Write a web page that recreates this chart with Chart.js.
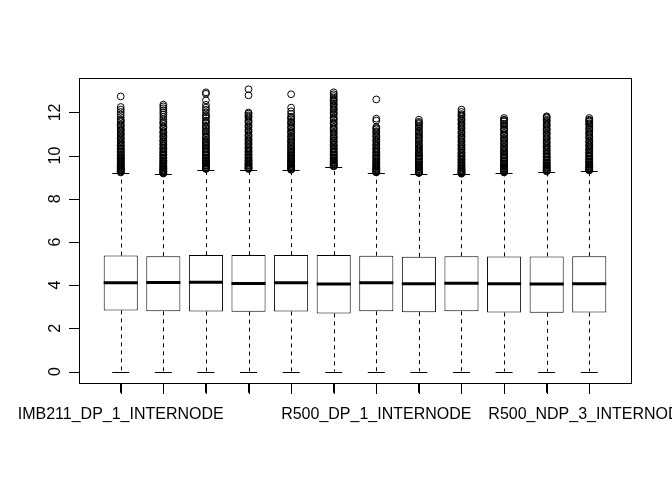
<!DOCTYPE html>
<html>
<head>
<meta charset="utf-8">
<script src="https://cdn.jsdelivr.net/npm/chart.js@4"></script>
<style>
html,body{margin:0;padding:0;background:#fff;overflow:hidden;}
canvas{display:block;}
</style>
</head>
<body>
<canvas id="c" width="672" height="480"></canvas>
<script>
const categories = [
  'IMB211_DP_1_INTERNODE','IMB211_DP_2_INTERNODE','IMB211_DP_3_INTERNODE',
  'IMB211_NDP_1_INTERNODE','IMB211_NDP_2_INTERNODE','IMB211_NDP_3_INTERNODE',
  'R500_DP_1_INTERNODE','R500_DP_2_INTERNODE','R500_DP_3_INTERNODE',
  'R500_NDP_1_INTERNODE','R500_NDP_2_INTERNODE','R500_NDP_3_INTERNODE'
];
const tickLabels = ['IMB211_DP_1_INTERNODE','','','','','','R500_DP_1_INTERNODE','','','','','R500_NDP_3_INTERNODE'];
const yTickValues = [0, 2, 4, 6, 8, 10, 12];

const whiskerLow  = [0, 0, 0, 0, 0, 0, 0, 0, 0, 0, 0, 0];
const q1          = [2.83, 2.79, 2.78, 2.77, 2.78, 2.69, 2.79, 2.75, 2.79, 2.73, 2.72, 2.73];
const medians     = [4.11, 4.12, 4.13, 4.08, 4.11, 4.05, 4.11, 4.06, 4.09, 4.06, 4.05, 4.06];
const q3          = [5.37, 5.34, 5.39, 5.39, 5.39, 5.39, 5.36, 5.31, 5.34, 5.33, 5.33, 5.34];
const whiskerHigh = [9.19, 9.14, 9.35, 9.35, 9.31, 9.47, 9.19, 9.16, 9.13, 9.19, 9.24, 9.28];

const outliers1 = [9.22,9.27,9.31,9.36,9.41,9.45,9.5,9.55,9.6,9.66,9.71,9.77,9.83,9.88,9.94,10.0,10.07,10.13,10.2,10.27,10.34,10.42,10.5,10.58,10.67,10.76,10.85,10.95,11.04,11.14,11.23,11.33,11.44,11.55,11.66,11.78,11.9,12.02,12.13,12.25,12.74,
  9.25,9.33,9.39,9.48,9.58,9.69,9.8,9.91,10.04,10.17,10.31,10.46,10.62,10.8,11.0,11.19,11.39,11.6];
const outliers2 = [9.17,9.21,9.26,9.3,9.35,9.4,9.45,9.5,9.55,9.61,9.67,9.73,9.79,9.85,9.92,9.99,10.06,10.13,10.21,10.29,10.37,10.46,10.55,10.64,10.73,10.83,10.93,11.03,11.13,11.24,11.35,11.46,11.57,11.68,11.79,11.9,12.0,12.1,12.19,12.28,12.36,
  9.19,9.24,9.33,9.42,9.52,9.64,9.76,9.89,10.03,10.17,10.33,10.5,10.68,10.88,11.08,11.3,11.52];
const outliers3 = [9.38,9.42,9.47,9.52,9.57,9.62,9.67,9.73,9.79,9.85,9.91,9.98,10.05,10.12,10.2,10.28,10.36,10.45,10.54,10.63,10.73,10.83,10.93,11.04,11.15,11.26,11.38,11.5,11.62,11.75,11.88,12.0,12.12,12.22,12.35,12.56,12.86,12.93,
  9.4,9.45,9.55,9.65,9.76,9.88,10.02,10.16,10.32,10.5,10.68,10.88,11.1,11.32,11.56,11.81];
const outliers4 = [9.38,9.42,9.47,9.52,9.57,9.62,9.68,9.74,9.8,9.86,9.93,10.0,10.07,10.15,10.23,10.31,10.4,10.49,10.58,10.68,10.78,10.88,10.98,11.09,11.2,11.31,11.42,11.53,11.64,11.75,11.86,11.94,11.99,12.79,13.07,
  9.4,9.45,9.55,9.65,9.77,9.9,10.04,10.19,10.36,10.54,10.73,10.93,11.14,11.36,11.58,11.8];
const outliers5 = [9.34,9.38,9.43,9.48,9.53,9.58,9.64,9.7,9.76,9.82,9.89,9.96,10.03,10.1,10.18,10.26,10.35,10.44,10.53,10.62,10.72,10.82,10.92,11.02,11.13,11.24,11.35,11.46,11.57,11.68,11.8,11.93,12.05,12.22,12.84,
  9.36,9.41,9.51,9.61,9.73,9.86,10.0,10.14,10.3,10.48,10.67,10.87,11.08,11.3,11.52,11.74];
const outliers6 = [9.5,9.54,9.59,9.64,9.69,9.74,9.8,9.86,9.92,9.98,10.05,10.12,10.19,10.27,10.35,10.43,10.52,10.61,10.7,10.8,10.9,11.0,11.1,11.2,11.31,11.42,11.53,11.64,11.76,11.88,12.0,12.1,12.2,12.3,12.4,12.5,12.59,12.68,12.76,12.84,12.93,
  9.52,9.57,9.67,9.77,9.89,10.02,10.16,10.31,10.48,10.66,10.85,11.05,11.26,11.48,11.7,11.94,12.15,12.35,12.55];
const outliers7 = [9.22,9.26,9.31,9.36,9.41,9.46,9.51,9.57,9.63,9.69,9.75,9.82,9.89,9.96,10.03,10.11,10.19,10.27,10.36,10.45,10.54,10.64,10.74,10.84,10.94,11.04,11.13,11.22,11.32,11.62,11.71,12.6,
  9.24,9.29,9.39,9.49,9.6,9.72,9.86,10.0,10.15,10.32,10.5,10.69,10.89,11.09,11.27];
const outliers8 = [9.19,9.23,9.28,9.33,9.38,9.43,9.49,9.55,9.61,9.67,9.74,9.81,9.88,9.95,10.03,10.11,10.19,10.28,10.37,10.46,10.56,10.66,10.76,10.86,10.96,11.06,11.16,11.26,11.36,11.46,11.56,11.66,
  9.21,9.26,9.36,9.46,9.58,9.71,9.85,9.99,10.15,10.33,10.51,10.71,10.91,11.11,11.31,11.51];
const outliers9 = [9.16,9.2,9.25,9.3,9.35,9.4,9.46,9.52,9.58,9.64,9.71,9.78,9.85,9.92,10.0,10.08,10.16,10.25,10.34,10.43,10.52,10.62,10.72,10.82,10.92,11.02,11.12,11.22,11.32,11.42,11.52,11.62,11.72,11.82,11.92,12.02,12.13,
  9.18,9.23,9.33,9.43,9.55,9.68,9.82,9.96,10.12,10.3,10.48,10.67,10.87,11.07,11.27,11.47,11.67,11.87];
const outliers10 = [9.22,9.26,9.31,9.36,9.41,9.46,9.52,9.58,9.64,9.7,9.77,9.84,9.91,9.99,10.07,10.15,10.24,10.33,10.42,10.52,10.62,10.72,10.82,10.93,11.04,11.15,11.26,11.37,11.48,11.58,11.66,11.74,
  9.24,9.29,9.39,9.49,9.61,9.74,9.88,10.03,10.2,10.38,10.57,10.77,10.98,11.2,11.42,11.62];
const outliers11 = [9.27,9.31,9.36,9.41,9.46,9.51,9.57,9.63,9.69,9.75,9.82,9.89,9.96,10.04,10.12,10.2,10.29,10.38,10.47,10.56,10.66,10.76,10.86,10.96,11.06,11.16,11.26,11.36,11.46,11.56,11.66,11.74,11.82,
  9.29,9.34,9.44,9.54,9.66,9.79,9.93,10.08,10.25,10.43,10.61,10.81,11.01,11.21,11.41,11.61,11.78];
const outliers12 = [9.31,9.35,9.4,9.45,9.5,9.55,9.61,9.67,9.73,9.79,9.86,9.93,10.0,10.08,10.16,10.24,10.33,10.42,10.51,10.6,10.7,10.8,10.9,11.0,11.1,11.2,11.3,11.4,11.5,11.58,11.66,11.74,
  9.33,9.38,9.48,9.58,9.7,9.83,9.97,10.12,10.29,10.47,10.65,10.85,11.05,11.25,11.45,11.62];
const outliers = [outliers1,outliers2,outliers3,outliers4,outliers5,outliers6,outliers7,outliers8,outliers9,outliers10,outliers11,outliers12];

// R-style axis limits (4% extension)
const n = categories.length;
const allVals = [].concat(whiskerLow, whiskerHigh, ...outliers);
const dLo = Math.min(...allVals), dHi = Math.max(...allVals);
const yExt = (dHi - dLo) * 0.04;
const xExt = n * 0.04;

const boxData = categories.map((c, i) => ({x: i + 1, y: [q1[i], q3[i]]}));
const outlierData = [];
outliers.forEach((arr, i) => arr.forEach(v => outlierData.push({x: i + 1, y: v})));

const FONT = "'Liberation Sans', Arial, Helvetica, sans-serif";

function drawXTicks(chart) {
  const ctx = chart.ctx;
  const a = chart.chartArea;
  const meta = chart.getDatasetMeta(0);
  ctx.save();
  ctx.setLineDash([]);
  ctx.strokeStyle = '#000000';
  ctx.lineWidth = 1;
  ctx.beginPath();
  meta.data.forEach(bar => {
    const px = Math.round(bar.x) + 0.5;
    ctx.moveTo(px, Math.round(a.bottom));
    ctx.lineTo(px, Math.round(a.bottom) + 11);
  });
  ctx.stroke();
  ctx.restore();
}

const rBoxPlugin = {
  id: 'rBox',
  afterDatasetsDraw(chart) {
    const ctx = chart.ctx;
    const ys = chart.scales.y;
    const meta = chart.getDatasetMeta(0);
    ctx.save();
    ctx.strokeStyle = '#000';
    meta.data.forEach((bar, i) => {
      const x = Math.round(bar.x) + 0.5;
      const w = bar.width;
      const yq1 = ys.getPixelForValue(q1[i]);
      const yq3 = ys.getPixelForValue(q3[i]);
      const yLo = ys.getPixelForValue(whiskerLow[i]);
      const yHi = ys.getPixelForValue(whiskerHigh[i]);
      const yMed = ys.getPixelForValue(medians[i]);
      ctx.lineWidth = 1;
      ctx.setLineDash([4, 4]);
      ctx.beginPath();
      ctx.moveTo(x, yq3); ctx.lineTo(x, yHi);
      ctx.moveTo(x, yq1); ctx.lineTo(x, yLo);
      ctx.stroke();
      ctx.setLineDash([]);
      ctx.beginPath();
      ctx.moveTo(bar.x - w / 4, Math.round(yHi) + 0.5); ctx.lineTo(bar.x + w / 4, Math.round(yHi) + 0.5);
      ctx.moveTo(bar.x - w / 4, Math.round(yLo) + 0.5); ctx.lineTo(bar.x + w / 4, Math.round(yLo) + 0.5);
      ctx.stroke();
      ctx.lineWidth = 3;
      ctx.beginPath();
      ctx.moveTo(bar.x - w / 2, yMed); ctx.lineTo(bar.x + w / 2, yMed);
      ctx.stroke();
    });
    ctx.restore();
    drawXTicks(chart);
  },
  afterDraw(chart) {
    const ctx = chart.ctx;
    const a = chart.chartArea;
    const ys = chart.scales.y;
    ctx.save();
    ctx.setLineDash([]);
    ctx.strokeStyle = '#000000';
    ctx.fillStyle = '#000000';
    ctx.lineWidth = 1;
    const L = Math.round(a.left) + 0.5, T = Math.round(a.top) + 0.5;
    const R = Math.round(a.right) + 0.5, B = Math.round(a.bottom) + 0.5;
    ctx.strokeRect(L, T, R - L, B - T);
    yTickValues.forEach(v => {
      ctx.fillRect(Math.round(a.left) - 10, Math.round(ys.getPixelForValue(v)), 10, 1);
    });
    ctx.font = '16px ' + FONT;
    ctx.textAlign = 'center';
    ctx.textBaseline = 'alphabetic';
    yTickValues.forEach(v => {
      const py = ys.getPixelForValue(v);
      ctx.save();
      ctx.translate(a.left - 19, py);
      ctx.rotate(-Math.PI / 2);
      ctx.fillText(String(v), 0, 0);
      ctx.restore();
    });
    ctx.restore();
    drawXTicks(chart);
  }
};

new Chart(document.getElementById('c'), {
  type: 'bar',
  data: {
    datasets: [
      {
        type: 'bar',
        data: boxData,
        backgroundColor: '#ffffff',
        borderColor: '#000000',
        borderWidth: 1,
        borderSkipped: false,
        categoryPercentage: 1.0,
        barPercentage: 0.8
      },
      {
        type: 'scatter',
        data: outlierData,
        pointStyle: 'circle',
        pointRadius: 3.4,
        pointBorderWidth: 1,
        pointBorderColor: '#000000',
        pointBackgroundColor: 'rgba(0,0,0,0)',
        showLine: false
      }
    ]
  },
  plugins: [rBoxPlugin],
  options: {
    responsive: false,
    animation: false,
    devicePixelRatio: 1,
    layout: {padding: {left: 69, right: 41, top: 78, bottom: 44}},
    plugins: {legend: {display: false}, tooltip: {enabled: false}},
    scales: {
      x: {
        type: 'linear',
        min: 0.5 - xExt,
        max: n + 0.5 + xExt,
        offset: false,
        afterBuildTicks(scale) { scale.ticks = categories.map((c, i) => ({value: i + 1})); },
        afterFit(scale) { scale.paddingLeft = 0; scale.paddingRight = 0; },
        grid: {display: true, offset: false, drawOnChartArea: false, drawTicks: true, tickLength: 10, color: '#000000', lineWidth: 1},
        border: {display: false},
        ticks: {
          autoSkip: false,
          maxRotation: 0,
          minRotation: 0,
          padding: 12,
          color: '#000',
          font: {family: FONT, size: 16},
          callback(value) { const i = Math.round(value) - 1; return tickLabels[i] || ''; }
        }
      },
      y: {
        type: 'linear',
        min: dLo - yExt,
        max: dHi + yExt,
        afterBuildTicks(scale) { scale.ticks = yTickValues.map(v => ({value: v})); },
        grid: {display: true, drawOnChartArea: false, drawTicks: true, tickLength: 10, color: 'rgba(0,0,0,0)', lineWidth: 1},
        border: {display: false},
        ticks: {display: false}
      }
    }
  }
});
</script>
</body>
</html>
